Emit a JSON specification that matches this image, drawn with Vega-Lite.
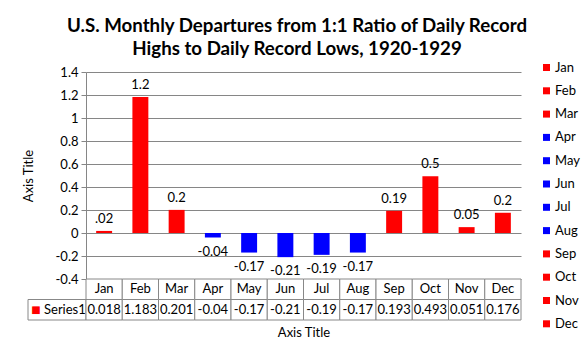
{
  "$schema": "https://vega.github.io/schema/vega-lite/v6.json",
  "padding": {"left": 22, "top": 17, "right": 5, "bottom": 5},
  "background": "white",
  "title": {
    "text": ["U.S. Monthly Departures from 1:1 Ratio of Daily Record", "Highs to Daily Record Lows, 1920-1929"],
    "font": "Lato", "fontSize": 18.7, "fontWeight": "bold", "lineHeight": 23,
    "color": "#000", "anchor": "middle", "offset": 2, "dx": -4
  },
  "datasets": {
    "months": [
      {"month": "Jan", "value": 0.018, "label": ".02"},
      {"month": "Feb", "value": 1.183, "label": "1.2"},
      {"month": "Mar", "value": 0.201, "label": "0.2"},
      {"month": "Apr", "value": -0.04, "label": "-0.04"},
      {"month": "May", "value": -0.17, "label": "-0.17"},
      {"month": "Jun", "value": -0.21, "label": "-0.21"},
      {"month": "Jul", "value": -0.19, "label": "-0.19"},
      {"month": "Aug", "value": -0.17, "label": "-0.17"},
      {"month": "Sep", "value": 0.193, "label": "0.19"},
      {"month": "Oct", "value": 0.493, "label": "0.5"},
      {"month": "Nov", "value": 0.051, "label": "0.05"},
      {"month": "Dec", "value": 0.176, "label": "0.2"}
    ],
    "rows": [{"row": "Series1"}],
    "blank": [{"t": ""}]
  },
  "data": {"name": "months"},
  "columns": 2,
  "spacing": 0,
  "bounds": "flush",
  "align": "each",
  "concat": [
    {
      "width": 58, "height": 207,
      "data": {"name": "blank"},
      "mark": {"type": "text"},
      "encoding": {"text": {"field": "t", "type": "nominal"}}
    },
    {
      "width": 435, "height": 207,
      "encoding": {
        "x": {"field": "month", "type": "nominal", "sort": null,
          "scale": {"domain": ["Jan","Feb","Mar","Apr","May","Jun","Jul","Aug","Sep","Oct","Nov","Dec"], "paddingInner": 0.56, "paddingOuter": 0.28},
          "axis": null},
        "y": {"field": "value", "type": "quantitative",
          "scale": {"domain": [-0.4, 1.4], "nice": false, "zero": true},
          "axis": {
            "values": [-0.4, -0.2, 0, 0.2, 0.4, 0.6, 0.8, 1, 1.2, 1.4],
            "labelExpr": "toString(round(datum.value*10)/10)",
            "title": "Axis Title", "titleFontSize": 13, "titleFontWeight": "normal", "titleColor": "#000", "titlePadding": 20,
            "grid": true, "gridColor": "#868686", "gridOpacity": 1,
            "domainColor": "#868686", "tickColor": "#868686", "tickSize": 5,
            "labelFontSize": 13, "labelColor": "#000", "labelPadding": 3
          }}
      },
      "layer": [
        {
          "mark": {"type": "bar"},
          "encoding": {
            "color": {"field": "month", "type": "nominal", "sort": null,
              "scale": {"domain": ["Jan","Feb","Mar","Apr","May","Jun","Jul","Aug","Sep","Oct","Nov","Dec"],
                "range": ["#FF0000","#FF0000","#FF0000","#0000FF","#0000FF","#0000FF","#0000FF","#0000FF","#FF0000","#FF0000","#FF0000","#FF0000"]},
              "legend": {"orient": "none", "legendX": 512, "legendY": -11, "title": null,
                "symbolType": "square", "symbolSize": 49, "symbolStrokeWidth": 0, "symbolOpacity": 1,
                "labelFontSize": 13, "labelColor": "#000", "labelOffset": 2, "rowPadding": 9.3, "padding": 0}}
          }
        },
        {
          "transform": [{"filter": "datum.value >= 0"}],
          "mark": {"type": "text", "baseline": "bottom", "dy": -5, "fontSize": 13, "color": "#000"},
          "encoding": {"text": {"field": "label", "type": "nominal"}}
        },
        {
          "transform": [{"filter": "datum.value < 0"}],
          "mark": {"type": "text", "baseline": "top", "dy": 8, "fontSize": 13, "color": "#000"},
          "encoding": {"text": {"field": "label", "type": "nominal"}}
        }
      ]
    },
    {
      "width": 58, "height": 41,
      "data": {"name": "rows"},
      "encoding": {
        "y": {"field": "row", "type": "nominal",
          "scale": {"domain": ["hdr", "Series1"], "paddingInner": 0, "paddingOuter": 0}, "axis": null}
      },
      "layer": [
        {"mark": {"type": "rect", "fill": "white", "stroke": "#888", "strokeWidth": 1},
         "encoding": {"x": {"value": 0}, "x2": {"value": "width"}}},
        {"mark": {"type": "text", "align": "center", "dx": -21, "fontSize": 10, "color": "#FF0000", "font": "DejaVu Sans"},
         "encoding": {"text": {"value": "■"}}},
        {"mark": {"type": "text", "align": "left", "dx": -13, "fontSize": 13, "color": "#000"},
         "encoding": {"text": {"field": "row", "type": "nominal"}}}
      ]
    },
    {
      "width": 435, "height": 41,
      "encoding": {
        "x": {"field": "month", "type": "nominal", "sort": null,
          "scale": {"domain": ["Jan","Feb","Mar","Apr","May","Jun","Jul","Aug","Sep","Oct","Nov","Dec"], "paddingInner": 0, "paddingOuter": 0},
          "axis": {"orient": "bottom", "labels": false, "ticks": false, "domain": false, "title": "Axis Title",
            "titleFontSize": 13, "titleFontWeight": "normal", "titleColor": "#000", "titlePadding": 6}}
      },
      "layer": [
        {"mark": {"type": "rect", "fill": "white", "stroke": "#888", "strokeWidth": 1},
         "encoding": {"y": {"datum": "hdr", "type": "nominal", "scale": {"domain": ["hdr", "Series1"], "paddingInner": 0, "paddingOuter": 0}, "axis": null}}},
        {"mark": {"type": "rect", "fill": "white", "stroke": "#888", "strokeWidth": 1},
         "encoding": {"y": {"datum": "Series1", "type": "nominal", "scale": {"domain": ["hdr", "Series1"], "paddingInner": 0, "paddingOuter": 0}, "axis": null}}},
        {"mark": {"type": "text", "fontSize": 13, "color": "#000"},
         "encoding": {"y": {"datum": "hdr", "type": "nominal", "scale": {"domain": ["hdr", "Series1"], "paddingInner": 0, "paddingOuter": 0}, "axis": null},
           "text": {"field": "month", "type": "nominal"}}},
        {"mark": {"type": "text", "fontSize": 13, "color": "#000"},
         "encoding": {"y": {"datum": "Series1", "type": "nominal", "scale": {"domain": ["hdr", "Series1"], "paddingInner": 0, "paddingOuter": 0}, "axis": null},
           "text": {"field": "value", "type": "nominal"}}}
      ]
    }
  ],
  "config": {
    "font": "Lato",
    "view": {"stroke": null},
    "text": {"font": "Lato"},
    "axis": {"labelFont": "Lato", "titleFont": "Lato"},
    "legend": {"labelFont": "Lato"}
  }
}
